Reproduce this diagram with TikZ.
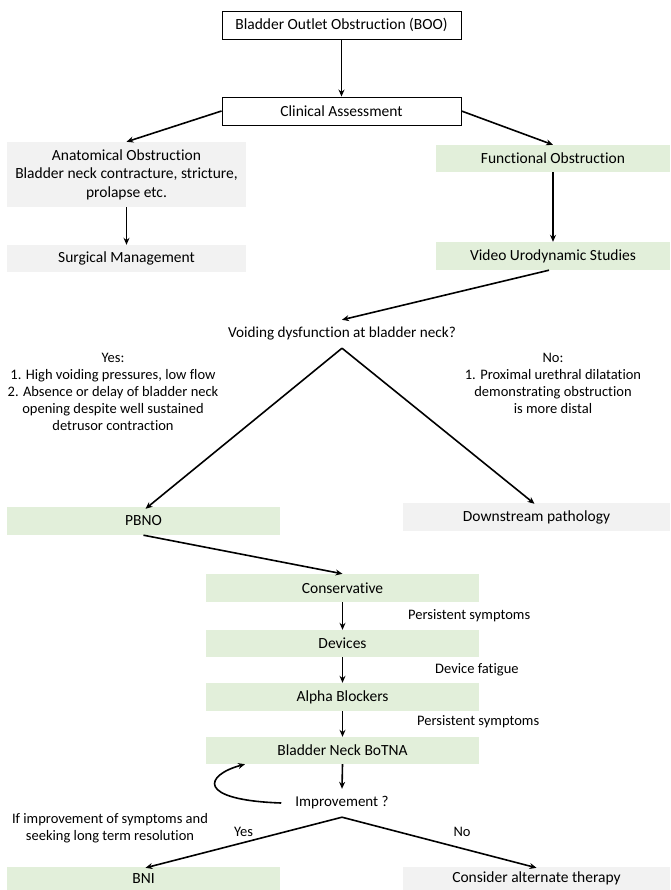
\documentclass[tikz,border=0pt]{standalone}
\usepackage{fontspec}
\setmainfont[Ligatures=NoCommon]{Carlito}
\usetikzlibrary{arrows.meta}
\definecolor{boxgreen}{HTML}{E2EFDA}
\definecolor{boxgrey}{HTML}{F2F2F2}
\begin{document}
\begin{tikzpicture}[x=1pt,y=-1pt,
  every node/.style={font=\fontsize{14.5}{17}\selectfont, inner sep=0pt},
  bigtext/.style={font=\fontsize{15.5}{18}\selectfont},
  wbox/.style={bigtext, draw=black, line width=0.9pt, fill=white, minimum width=239pt, minimum height=28pt},
  gbox/.style={bigtext, fill=boxgrey, minimum height=27pt},
  grbox/.style={bigtext, fill=boxgreen, minimum height=27pt},
  arr/.style={line width=1.6pt, -{Stealth[length=7pt,width=6pt]}},
  lbl/.style={align=center}
]
\useasboundingbox (0,0) rectangle (670,890);
\node[wbox] (boo) at (341.5,25) {Bladder Outlet Obstruction (BOO)};
\node[wbox] (clin) at (341.5,111) {Clinical Assessment};
\node[gbox, minimum width=239pt, minimum height=65pt, align=center, font=\fontsize{15.5}{18.5}\selectfont] (anat) at (126.5,174.5) {Anatomical Obstruction\\Bladder neck contracture, stricture,\\prolapse etc.};
\node[gbox, minimum width=239pt] (surg) at (126.5,258.5) {Surgical Management};
\node[grbox, minimum width=234pt] (func) at (553,158.5) {Functional Obstruction};
\node[grbox, minimum width=234pt, minimum height=28pt] (vus) at (553,256) {Video Urodynamic Studies};
\node[minimum height=28pt, font=\fontsize{15.2}{18}\selectfont] (void) at (342,334) {Voiding dysfunction at bladder neck?};
\node[lbl] (yes) at (113,391.5) {Yes:\\1. High voiding pressures, low flow\\2. Absence or delay of bladder neck\\opening despite well sustained\\detrusor contraction};
\node[lbl] (no) at (553,383) {No:\\1. Proximal urethral dilatation\\demonstrating obstruction\\is more distal};
\node[grbox, minimum width=273pt, minimum height=28pt] (pbno) at (143.5,521) {PBNO};
\node[gbox, minimum width=267pt, minimum height=28pt] (down) at (536.5,517) {Downstream pathology};
\node[grbox, minimum width=273pt, minimum height=28pt] (cons) at (342.5,588) {Conservative};
\node[grbox, minimum width=273pt] (dev) at (342.5,643.5) {Devices};
\node[grbox, minimum width=273pt, minimum height=28pt] (alpha) at (342.5,697) {Alpha Blockers};
\node[grbox, minimum width=273pt] (botna) at (342.5,750.5) {Bladder Neck BoTNA};
\node[minimum height=28pt, inner xsep=14pt, font=\fontsize{15}{18}\selectfont] (impr) at (342,803) {Improvement ?};
\node[grbox, minimum width=273pt, minimum height=23pt] (bni) at (143.5,878.5) {BNI};
\node[gbox, minimum width=267pt, minimum height=23pt] (alt) at (536.5,878.5) {Consider alternate therapy};
\node[anchor=west] (ps1) at (408,616) {Persistent symptoms};
\node[anchor=west] (df) at (435,670) {Device fatigue};
\node[anchor=west] (ps2) at (417,722) {Persistent symptoms};
\node[lbl] (seek) at (110,828) {If improvement of symptoms and\\seeking long term resolution};
\node (yeslbl) at (243.5,832) {Yes};
\node (nolbl) at (462,832) {No};
\draw[arr] (boo.south) -- (clin.north);
\draw[arr] (clin.west) -- (anat.north);
\draw[arr] (clin.east) -- (func.north);
\draw[arr] (anat.south) -- (surg.north);
\draw[arr] (func.south) -- (vus.north);
\draw[arr] ([xshift=-4pt]vus.south) -- (void.north);
\draw[arr] (void.south) -- ([xshift=2pt,yshift=-2pt]pbno.north);
\draw[arr] (void.south) -- ([xshift=-2pt,yshift=-1pt]down.north);
\draw[arr] (pbno.south) -- (cons.north);
\draw[arr] (cons.south) -- (dev.north);
\draw[arr] (dev.south) -- (alpha.north);
\draw[arr] (alpha.south) -- (botna.north);
\draw[arr] (botna.south) -- (impr.north);
\draw[arr] (impr.south) -- ([xshift=2pt,yshift=-1pt]bni.north);
\draw[arr] (impr.south) -- ([yshift=-1pt]alt.north);
\draw[arr] (impr.west) .. controls (195,800) and (205,775) .. (botna.south west -| 245,769);
\end{tikzpicture}
\end{document}
